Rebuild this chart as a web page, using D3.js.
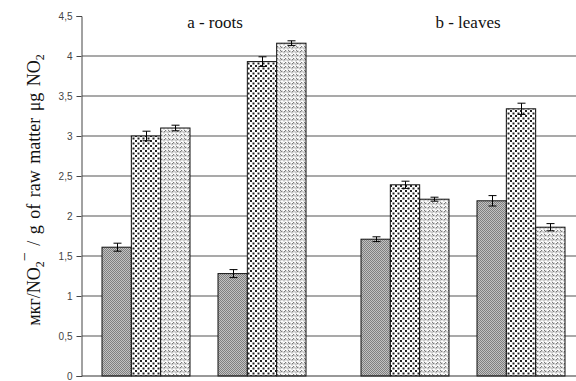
<!DOCTYPE html>
<html>
<head>
<meta charset="utf-8">
<script src="https://cdn.jsdelivr.net/npm/d3@7"></script>
<style>
  html, body { margin: 0; padding: 0; background: #fff; }
  svg { display: block; }
  .serif { font-family: "Liberation Serif", "Times New Roman", "DejaVu Serif", serif; }
  .sans { font-family: "Liberation Sans", Arial, sans-serif; }
</style>
</head>
<body>
<svg id="chart" width="576" height="381"></svg>
<script>
// Sections (organ) and the two samples in each
const sections = ["a - roots", "b - leaves"];
const samples = ["1", "2"];
const seriesNames = ["s1", "s2", "s3"];

// NO2 content per bar (order: roots 1, roots 2, leaves 1, leaves 2)
const series1 = [1.61, 1.28, 1.71, 2.19];
const series2 = [3.00, 3.93, 2.39, 3.34];
const series3 = [3.10, 4.16, 2.21, 1.86];

// Half-widths of the error bars
const err1 = [0.05, 0.05, 0.03, 0.065];
const err2 = [0.06, 0.06, 0.045, 0.07];
const err3 = [0.035, 0.03, 0.025, 0.045];

const yTicks = [0, 0.5, 1, 1.5, 2, 2.5, 3, 3.5, 4, 4.5];

const svg = d3.select("#chart");
const W = 576;

// Fill patterns for the three series
const defs = svg.append("defs");

const p1 = defs.append("pattern").attr("id", "pat1")
  .attr("patternUnits", "userSpaceOnUse").attr("width", 2).attr("height", 2);
p1.append("rect").attr("width", 2).attr("height", 2).attr("fill", "#c2c2c2");
p1.append("rect").attr("width", 1).attr("height", 1).attr("fill", "#808080");
p1.append("rect").attr("x", 1).attr("y", 1).attr("width", 1).attr("height", 1).attr("fill", "#808080");

const p2 = defs.append("pattern").attr("id", "pat2")
  .attr("patternUnits", "userSpaceOnUse").attr("width", 5).attr("height", 5);
p2.append("rect").attr("width", 5).attr("height", 5).attr("fill", "#fff");
p2.append("rect").attr("x", 0).attr("y", 0).attr("width", 2).attr("height", 2).attr("fill", "#222");
p2.append("rect").attr("x", 2.5).attr("y", 2.5).attr("width", 2).attr("height", 2).attr("fill", "#222");

const p3 = defs.append("pattern").attr("id", "pat3")
  .attr("patternUnits", "userSpaceOnUse").attr("width", 8).attr("height", 8);
p3.append("rect").attr("width", 8).attr("height", 8).attr("fill", "#c6c6c6");
p3.append("path").attr("d", "M0,3 L2,1 L4,3 L6,1 L8,3 M0,7 L2,5 L4,7 L6,5 L8,7")
  .attr("fill", "none").attr("stroke", "#fff").attr("stroke-width", 1.3);
p3.append("path").attr("d", "M0,2 L2,4 M4,4 L6,2 M0,6 L2,8 M4,8 L6,6")
  .attr("fill", "none").attr("stroke", "#6e6e6e").attr("stroke-width", 0.9);

const fills = ["url(#pat1)", "url(#pat2)", "url(#pat3)"];

// Scales
const y = d3.scaleLinear().domain([0, 4.5]).range([376, 16]);
const x0 = d3.scaleBand().domain(sections).range([82, 600]);
const x1 = d3.scaleBand().domain(samples).range([20, 224]).paddingInner(28 / 116).paddingOuter(0);
const x2 = d3.scaleBand().domain(seriesNames).range([0, x1.bandwidth()]);

// Horizontal gridlines
svg.append("g").selectAll("line")
  .data(yTicks.filter(d => d > 0 && d < 4.5))
  .join("line")
  .attr("x1", 82).attr("x2", W)
  .attr("y1", d => y(d)).attr("y2", d => y(d))
  .attr("stroke", "#555").attr("stroke-width", 1.2);

// Build bar records
const bars = [];
const vals = [series1, series2, series3];
const errs = [err1, err2, err3];
sections.forEach((sec, si) => {
  samples.forEach((smp, mi) => {
    const idx = si * 2 + mi;
    seriesNames.forEach((s, k) => {
      bars.push({ sec, smp, s, k, v: vals[k][idx], e: errs[k][idx] });
    });
  });
});

const bx = d => x0(d.sec) + x1(d.smp) + x2(d.s);

svg.append("g").selectAll("rect")
  .data(bars)
  .join("rect")
  .attr("x", bx)
  .attr("y", d => y(d.v))
  .attr("width", x2.bandwidth())
  .attr("height", d => y(0) - y(d.v))
  .attr("fill", d => fills[d.k])
  .attr("stroke", "#111")
  .attr("stroke-width", 1);

// Error bars
const eg = svg.append("g").attr("stroke", "#000").attr("stroke-width", 1);
bars.forEach(d => {
  const cx = Math.round(bx(d) + x2.bandwidth() / 2) + 0.5;
  const t = y(d.v + d.e), b = y(d.v - d.e);
  eg.append("line").attr("x1", cx).attr("x2", cx).attr("y1", t).attr("y2", b);
  eg.append("line").attr("x1", cx - 4).attr("x2", cx + 4).attr("y1", t).attr("y2", t);
  eg.append("line").attr("x1", cx - 4).attr("x2", cx + 4).attr("y1", b).attr("y2", b);
});

// Baseline
svg.append("line").attr("x1", 82).attr("x2", W)
  .attr("y1", y(0)).attr("y2", y(0))
  .attr("stroke", "#333").attr("stroke-width", 1.2);

// Y axis
const yAxis = svg.append("g").attr("transform", "translate(81.5,0)")
  .call(d3.axisLeft(y).tickValues(yTicks).tickSize(5).tickPadding(4)
    .tickFormat(d => String(d).replace(".", ",")));
yAxis.attr("font-family", null);
yAxis.select(".domain").attr("stroke", "#444");
yAxis.selectAll(".tick line").attr("stroke", "#444");
yAxis.selectAll(".tick text")
  .attr("class", "sans")
  .attr("font-size", 10).attr("fill", "#444");

// Section titles
svg.append("g").selectAll("text")
  .data(sections)
  .join("text")
  .attr("class", "serif")
  .attr("x", (d, i) => x0(d) + [133, 127][i])
  .attr("y", 28)
  .attr("text-anchor", "middle")
  .attr("font-size", 17)
  .attr("fill", "#111")
  .text(d => d);

// Y axis title
const yt = svg.append("text")
  .attr("class", "serif")
  .attr("transform", "translate(40,190) rotate(-90)")
  .attr("text-anchor", "middle")
  .attr("font-size", 18)
  .attr("word-spacing", 2)
  .attr("fill", "#111");
yt.append("tspan").text("мкг/NO");
yt.append("tspan").attr("font-size", 12).attr("dy", 4).text("2");
yt.append("tspan").attr("font-size", 16).attr("dy", -14).text("\u2212");
yt.append("tspan").attr("dy", 10).text(" / g of  raw matter \u03bcg NO");
yt.append("tspan").attr("font-size", 12).attr("dy", 4).text("2");
</script>
</body>
</html>
